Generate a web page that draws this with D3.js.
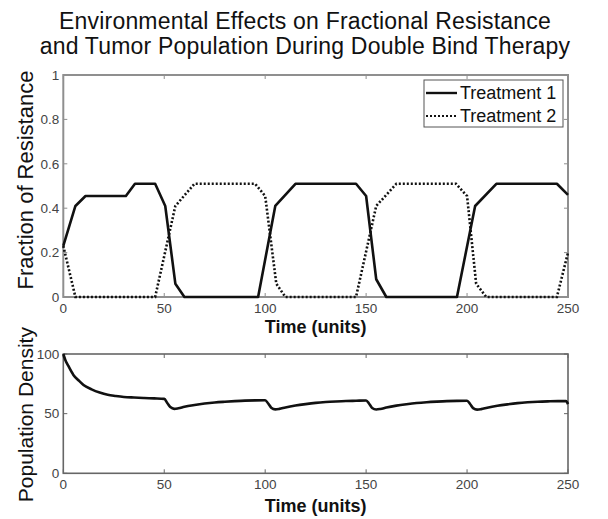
<!DOCTYPE html>
<html>
<head>
<meta charset="utf-8">
<script src="https://cdn.jsdelivr.net/npm/d3@7/dist/d3.min.js"></script>
<style>
  html, body { margin: 0; padding: 0; background: #ffffff; }
  svg { display: block; font-family: "Liberation Sans", Arial, sans-serif; }
</style>
</head>
<body>
<svg id="chart" width="608" height="519"></svg>
<script>
// Fraction of resistance under each treatment (time in units)
const timeT1 = [0, 6, 11, 31, 35.5, 45.5, 50.5, 55.5, 60, 96.5, 105, 115, 145, 150, 155, 160, 195, 204, 214.5, 244.5, 250];
const resT1  = [0.23, 0.41, 0.455, 0.455, 0.51, 0.51, 0.41, 0.06, 0, 0, 0.41, 0.51, 0.51, 0.455, 0.08, 0, 0, 0.41, 0.51, 0.51, 0.46];
const timeT2 = [0, 6, 45.5, 55.5, 65, 95, 100, 105.5, 110, 145, 155, 165, 194.5, 200, 204.5, 209.5, 244.5, 250];
const resT2  = [0.23, 0, 0, 0.41, 0.51, 0.51, 0.455, 0.06, 0, 0, 0.41, 0.51, 0.51, 0.455, 0.06, 0, 0, 0.2];

// Tumor population density over time
const popTime = [0, 1, 2.5, 5, 7.5, 10, 14, 18, 22, 26, 30, 35, 40, 45, 50, 51.5, 53, 55, 57, 60, 65, 70, 75, 80, 85, 90, 95, 100,
                 101.5, 103, 105, 107, 110, 115, 120, 125, 130, 135, 140, 145, 150,
                 151.5, 153, 155, 157, 160, 165, 170, 175, 180, 185, 190, 195, 200,
                 201.5, 203, 205, 207, 210, 215, 220, 225, 230, 235, 240, 245, 249, 250];
const popVal  = [100, 95, 90, 82.5, 78, 74, 70.4, 67.7, 65.8, 64.8, 64, 63.5, 63.1, 62.8, 62.4, 59, 55.5, 54, 54.5, 55.8, 57.3, 58.5, 59.4, 60, 60.5, 60.9, 61.1, 61.2,
                 58.5, 55, 53.6, 54, 55.2, 56.8, 58, 59, 59.7, 60.2, 60.6, 60.8, 61,
                 58.3, 54.8, 53.5, 53.9, 55.1, 56.7, 57.9, 58.9, 59.6, 60.1, 60.5, 60.7, 60.8,
                 58.1, 54.6, 53.4, 53.8, 55, 56.6, 57.8, 58.8, 59.5, 60, 60.3, 60.5, 60.5, 58];

// Axis ticks
const xTicks = [0, 50, 100, 150, 200, 250];
const resTicks = [0, 0.2, 0.4, 0.6, 0.8, 1];
const resTickLabels = ["0", "0.2", "0.4", "0.6", "0.8", "1"];
const popTicks = [0, 50, 100];

const titleLines = ["Environmental Effects on Fractional Resistance",
                    "and Tumor Population During Double Bind Therapy"];
const seriesNames = ["Treatment 1", "Treatment 2"];

const svg = d3.select("#chart");

const plotLeft = 63.3, plotRight = 568;
const top1 = 75, bottom1 = 297;
const top2 = 354, bottom2 = 473.3;

const x = d3.scaleLinear().domain([0, 250]).range([plotLeft, plotRight]);
const yRes = d3.scaleLinear().domain([0, 1]).range([bottom1, top1]);
const yPop = d3.scaleLinear().domain([0, 100]).range([bottom2, top2]);

// Title
svg.append("g").selectAll("text").data(titleLines).join("text")
  .attr("x", 305)
  .attr("y", (d, i) => 29 + i * 25)
  .attr("text-anchor", "middle")
  .attr("font-size", 23)
  .attr("letter-spacing", 0.2)
  .attr("fill", "#111")
  .text(d => d);

function drawFrame(yScale, ticks, labels, frameColor, frameWidth) {
  const g = svg.append("g");
  const [yb, yt] = yScale.range();
  // ticks inside the box on all four sides
  const tl = 4;
  xTicks.forEach(t => {
    g.append("line").attr("x1", x(t)).attr("x2", x(t)).attr("y1", yb).attr("y2", yb - tl)
      .attr("stroke", frameColor).attr("stroke-width", 1);
    g.append("line").attr("x1", x(t)).attr("x2", x(t)).attr("y1", yt).attr("y2", yt + tl)
      .attr("stroke", frameColor).attr("stroke-width", 1);
  });
  ticks.forEach(t => {
    g.append("line").attr("x1", plotLeft).attr("x2", plotLeft + tl).attr("y1", yScale(t)).attr("y2", yScale(t))
      .attr("stroke", frameColor).attr("stroke-width", 1);
    g.append("line").attr("x1", plotRight).attr("x2", plotRight - tl).attr("y1", yScale(t)).attr("y2", yScale(t))
      .attr("stroke", frameColor).attr("stroke-width", 1);
  });
  g.append("rect")
    .attr("x", plotLeft).attr("y", yt)
    .attr("width", plotRight - plotLeft).attr("height", yb - yt)
    .attr("fill", "none").attr("stroke", frameColor).attr("stroke-width", frameWidth);
  // tick labels
  g.append("g").selectAll("text").data(xTicks).join("text")
    .attr("x", d => x(d)).attr("y", yb + 16)
    .attr("text-anchor", "middle").attr("font-size", 13.5).attr("fill", "#444")
    .text(d => d);
  g.append("g").selectAll("text").data(ticks).join("text")
    .attr("x", plotLeft - 4).attr("y", d => yScale(d))
    .attr("dy", "0.35em")
    .attr("text-anchor", "end").attr("font-size", 13.5).attr("fill", "#444")
    .text((d, i) => labels[i]);
}

drawFrame(yRes, resTicks, resTickLabels, "#8f8f8f", 2);
drawFrame(yPop, popTicks, popTicks.map(String), "#666666", 1.6);

// Axis titles
svg.append("text").attr("x", (plotLeft + plotRight) / 2).attr("y", 333)
  .attr("text-anchor", "middle").attr("font-size", 18).attr("font-weight", "bold").attr("fill", "#111")
  .text("Time (units)");
svg.append("text").attr("x", (plotLeft + plotRight) / 2).attr("y", 512)
  .attr("text-anchor", "middle").attr("font-size", 18).attr("font-weight", "bold").attr("fill", "#111")
  .text("Time (units)");
svg.append("text").attr("transform", `translate(33,${(top1 + bottom1) / 2 - 6}) rotate(-90)`)
  .attr("text-anchor", "middle").attr("font-size", 22).attr("fill", "#111")
  .text("Fraction of Resistance");
svg.append("text").attr("transform", `translate(33,${(top2 + bottom2) / 2 + 1}) rotate(-90)`)
  .attr("text-anchor", "middle").attr("font-size", 21).attr("fill", "#111")
  .text("Population Density");

// Resistance lines
const lineRes = d3.line().x(d => x(d[0])).y(d => yRes(d[1]));
svg.append("path")
  .datum(timeT1.map((t, i) => [t, resT1[i]]))
  .attr("d", lineRes).attr("fill", "none").attr("stroke", "#111").attr("stroke-width", 2.6)
  .attr("stroke-linejoin", "round");
svg.append("path")
  .datum(timeT2.map((t, i) => [t, resT2[i]]))
  .attr("d", lineRes).attr("fill", "none").attr("stroke", "#111").attr("stroke-width", 2.6)
  .attr("stroke-dasharray", "2,2");

// Population line
const linePop = d3.line().x(d => x(d[0])).y(d => yPop(d[1])).curve(d3.curveMonotoneX);
svg.append("path")
  .datum(popTime.map((t, i) => [t, popVal[i]]))
  .attr("d", linePop).attr("fill", "none").attr("stroke", "#111").attr("stroke-width", 2.6);

// Legend
const lg = svg.append("g");
lg.append("rect").attr("x", 424).attr("y", 80).attr("width", 139).attr("height", 47)
  .attr("fill", "#fff").attr("stroke", "#555").attr("stroke-width", 1);
seriesNames.forEach((name, i) => {
  const yy = 93 + i * 23;
  lg.append("line").attr("x1", 426).attr("x2", 457).attr("y1", yy).attr("y2", yy)
    .attr("stroke", "#111").attr("stroke-width", i === 0 ? 2.4 : 1.8)
    .attr("stroke-dasharray", i === 0 ? null : "2,2");
  lg.append("text").attr("x", 460).attr("y", yy).attr("dy", "0.35em")
    .attr("font-size", 18).attr("fill", "#111").text(name);
});
</script>
</body>
</html>
